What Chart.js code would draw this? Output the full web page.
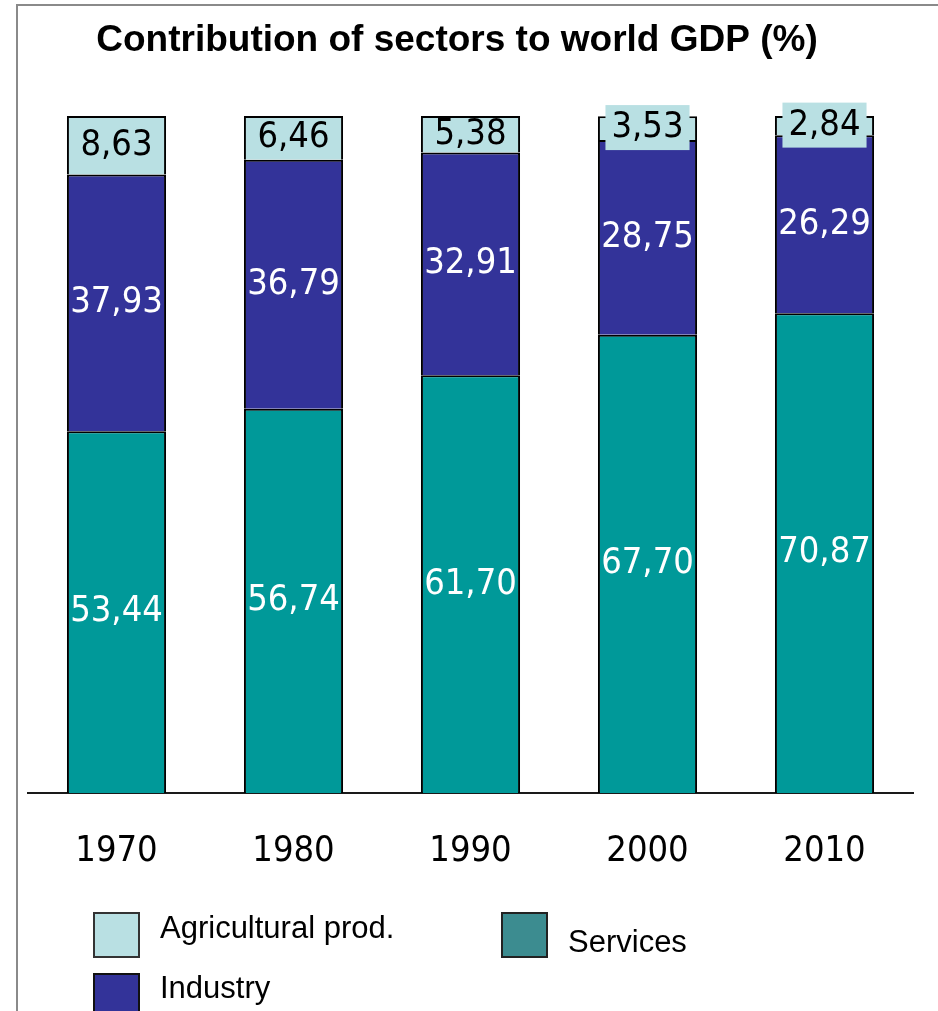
<!DOCTYPE html>
<html>
<head>
<meta charset="utf-8">
<script src="https://cdn.jsdelivr.net/npm/chart.js@4"></script>
<style>
  html, body { margin: 0; padding: 0; background: #fff; }
  #wrap { width: 938px; height: 1011px; position: relative; }
</style>
</head>
<body>
<div id="wrap"><canvas id="gdp" width="938" height="1011"></canvas></div>
<script>
// Share of each sector in world GDP, per decade (%)
const years = ['1970', '1980', '1990', '2000', '2010'];
const services = [53.44, 56.74, 61.70, 67.70, 70.87];
const industry = [37.93, 36.79, 32.91, 28.75, 26.29];
const agriculture = [8.63, 6.46, 5.38, 3.53, 2.84];
const sectorNames = ['Services', 'Industry', 'Agricultural prod.'];
const chartTitle = 'Contribution of sectors to world GDP (%)';

const COLORS = {
  services: '#009999',
  industry: '#333399',
  agriculture: '#b9e0e3'
};
const LABEL_FONT = '"DejaVu Sans Condensed", "DejaVu Sans", Tahoma, sans-serif';
const TEXT_FONT = '"Liberation Sans", Arial, sans-serif';

const fmt = v => v.toFixed(2).replace('.', ',');

// Outer frame (top and left edges only)
const framePlugin = {
  id: 'frame',
  beforeDraw(chart) {
    const ctx = chart.ctx;
    ctx.save();
    ctx.strokeStyle = '#8a8a8a';
    ctx.lineWidth = 2;
    ctx.beginPath();
    ctx.moveTo(938, 5);
    ctx.lineTo(17, 5);
    ctx.lineTo(17, 1011);
    ctx.stroke();
    ctx.restore();
  }
};

// Heading
const titlePlugin = {
  id: 'heading',
  afterDraw(chart) {
    const ctx = chart.ctx;
    ctx.save();
    ctx.font = 'bold 37px ' + TEXT_FONT;
    ctx.fillStyle = '#000';
    ctx.textAlign = 'center';
    ctx.textBaseline = 'alphabetic';
    ctx.fillText(chartTitle, 457, 51);
    ctx.restore();
  }
};

// Value labels centred in each segment; thin segments get a filled box
const valueLabels = {
  id: 'valueLabels',
  afterDatasetsDraw(chart) {
    const ctx = chart.ctx;
    ctx.save();
    ctx.font = '36px ' + LABEL_FONT;
    ctx.textAlign = 'center';
    ctx.textBaseline = 'middle';
    chart.data.datasets.forEach((ds, di) => {
      const meta = chart.getDatasetMeta(di);
      meta.data.forEach((bar, i) => {
        const text = fmt(ds.data[i]);
        const cx = bar.x;
        const cy = (bar.y + bar.base) / 2 - 1;
        const h = Math.abs(bar.base - bar.y);
        if (ds.labelBox && h < 30) {
          const w = ctx.measureText(text).width + 12;
          ctx.fillStyle = ds.backgroundColor;
          ctx.fillRect(cx - w / 2, cy - 22, w, 45);
        }
        ctx.fillStyle = ds.labelColor;
        ctx.fillText(text, cx, cy + 1);
      });
    });
    ctx.restore();
  }
};

// Legend laid out in two columns below the axis
const legendPlugin = {
  id: 'sectorLegend',
  afterDraw(chart) {
    const ctx = chart.ctx;
    const spots = {
      'Agricultural prod.': { box: [94, 913], text: [160, 929], fill: COLORS.agriculture, edge: '#333' },
      'Industry': { box: [94, 974], text: [160, 989], fill: COLORS.industry, edge: '#111' },
      'Services': { box: [502, 913], text: [568, 943], fill: '#3c8c90', edge: '#222' }
    };
    ctx.save();
    ctx.font = '31px ' + TEXT_FONT;
    ctx.textAlign = 'left';
    ctx.textBaseline = 'middle';
    chart.data.datasets.forEach(ds => {
      const s = spots[ds.label];
      ctx.fillStyle = s.fill;
      ctx.fillRect(s.box[0], s.box[1], 45, 44);
      ctx.strokeStyle = s.edge;
      ctx.lineWidth = 2;
      ctx.strokeRect(s.box[0], s.box[1], 45, 44);
      ctx.fillStyle = '#000';
      ctx.fillText(ds.label, s.text[0], s.text[1]);
    });
    ctx.restore();
  }
};

const makeSet = (label, data, color, labelColor, labelBox) => ({
  label,
  data,
  backgroundColor: color,
  borderColor: '#000',
  borderWidth: 2,
  labelColor,
  labelBox,
  clip: false
});

new Chart(document.getElementById('gdp'), {
  type: 'bar',
  data: {
    labels: years,
    datasets: [
      makeSet(sectorNames[0], services, COLORS.services, '#fff', false),
      makeSet(sectorNames[1], industry, COLORS.industry, '#fff', false),
      makeSet(sectorNames[2], agriculture, COLORS.agriculture, '#000', true)
    ]
  },
  options: {
    responsive: false,
    devicePixelRatio: 1,
    animation: false,
    layout: { padding: { top: 116, left: 28, right: 25, bottom: 0 } },
    datasets: {
      bar: { categoryPercentage: 1, barPercentage: 0.56 }
    },
    plugins: {
      legend: { display: false },
      title: { display: false },
      tooltip: { enabled: false }
    },
    scales: {
      x: {
        stacked: true,
        z: 1,
        grid: { display: false, drawTicks: false },
        border: { display: true, color: '#1a1a1a', width: 2 },
        ticks: {
          color: '#000',
          padding: 37,
          font: { family: LABEL_FONT, size: 36 }
        },
        afterFit(scale) { scale.height = 1011 - 793; }
      },
      y: {
        stacked: true,
        display: false,
        min: 0,
        max: 100
      }
    }
  },
  plugins: [framePlugin, valueLabels, titlePlugin, legendPlugin]
});
</script>
</body>
</html>
